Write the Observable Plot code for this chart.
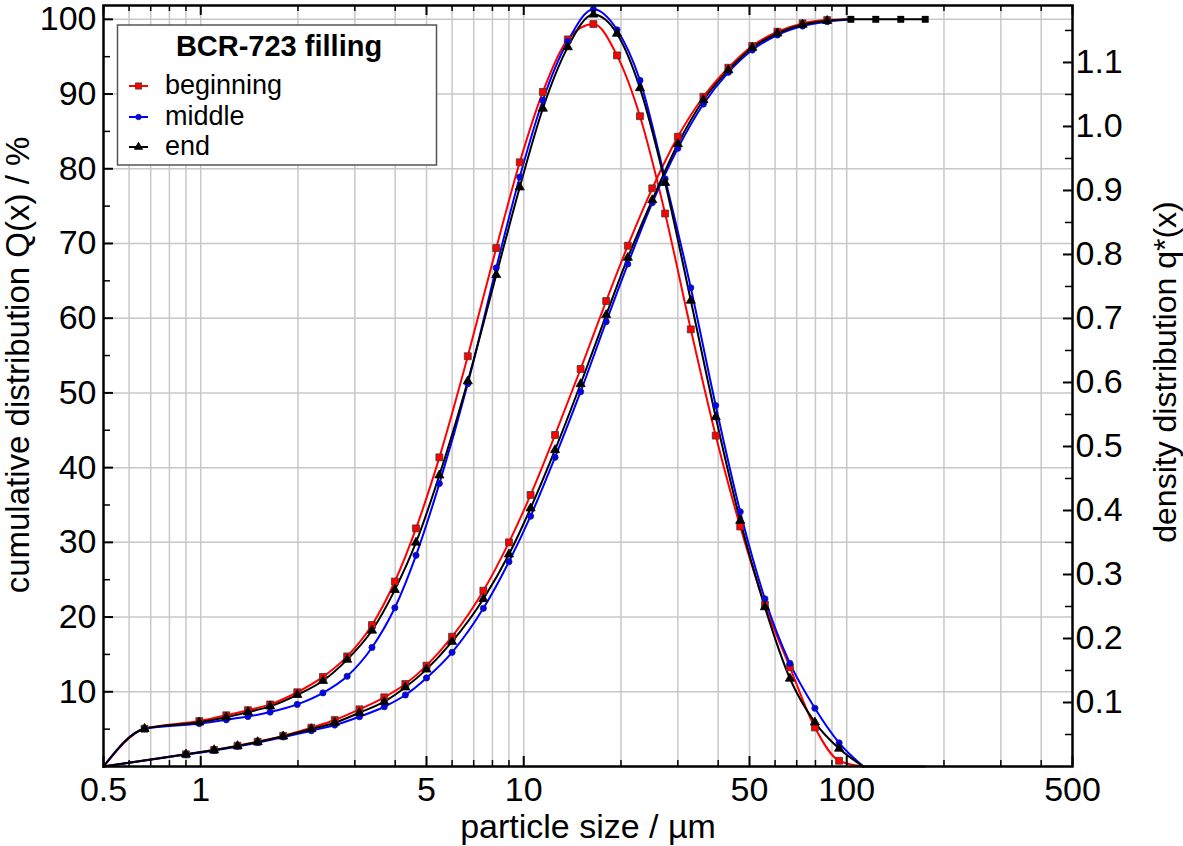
<!DOCTYPE html>
<html><head><meta charset="utf-8">
<script src="https://cdn.jsdelivr.net/npm/d3@7"></script>
<script src="https://cdn.jsdelivr.net/npm/@observablehq/plot@0.6"></script>
<style>
html,body{margin:0;padding:0;background:#fff;}
#chart{width:1183px;height:846px;position:relative;}
</style></head><body><div id="chart"></div>
<script>
// ---- data ----
const densSizes = [0.67, 0.99, 1.2, 1.4, 1.64, 1.99, 2.39, 2.84, 3.39, 3.99, 4.64, 5.48, 6.71, 8.22, 9.72, 11.46, 13.69, 16.43, 19.44, 22.9, 27.4, 32.9, 39.3, 46.8, 55.8, 66.7, 79.7, 94.7];
const densBeginning = [0.059, 0.071, 0.080, 0.088, 0.097, 0.116, 0.140, 0.172, 0.221, 0.289, 0.372, 0.483, 0.641, 0.810, 0.944, 1.054, 1.136, 1.160, 1.111, 1.016, 0.864, 0.683, 0.517, 0.375, 0.253, 0.155, 0.061, 0.009];
const densMiddle    = [0.059, 0.067, 0.073, 0.078, 0.085, 0.097, 0.115, 0.141, 0.186, 0.248, 0.330, 0.442, 0.598, 0.779, 0.921, 1.041, 1.133, 1.183, 1.151, 1.072, 0.918, 0.748, 0.564, 0.398, 0.262, 0.161, 0.091, 0.037];
const densEnd       = [0.059, 0.069, 0.077, 0.085, 0.094, 0.112, 0.134, 0.167, 0.2125, 0.276, 0.350, 0.455, 0.602, 0.768, 0.905, 1.028, 1.124, 1.175, 1.145, 1.060, 0.912, 0.728, 0.546, 0.384, 0.249, 0.1375, 0.069, 0.028];
const densTailSizes = [112.6, 175];
const densTail      = [0, 0];

const cumSizes = [0.9, 1.1, 1.3, 1.5, 1.8, 2.2, 2.6, 3.1, 3.7, 4.3, 5.0, 6.0, 7.5, 9.0, 10.5, 12.5, 15, 18, 21, 25, 30, 36, 43, 51, 61, 73, 87];
const cumBeginning = [1.63, 2.21, 2.78, 3.32, 4.1, 5.19, 6.22, 7.65, 9.26, 11.04, 13.5, 17.37, 23.53, 30.0, 36.34, 44.37, 53.2, 62.3, 69.7, 77.38, 84.29, 89.64, 93.52, 96.43, 98.34, 99.46, 99.9];
const cumMiddle    = [1.6, 2.15, 2.7, 3.2, 3.95, 4.79, 5.55, 6.66, 8.0, 9.57, 11.85, 15.28, 21.17, 27.41, 33.5, 41.38, 50.16, 59.53, 67.25, 75.45, 82.74, 88.66, 92.9, 95.89, 97.9, 99.1, 99.68];
const cumEnd       = [1.63, 2.2, 2.75, 3.28, 4.05, 5.02, 5.86, 7.2, 8.67, 10.6, 13.0, 16.7, 22.42, 28.4, 34.56, 42.36, 51.19, 60.43, 68.1, 75.82, 83.31, 89.2, 93.2, 96.2, 98.13, 99.3, 99.8];
const cumTailSizes = [103, 123, 147, 175];
const cumTail      = [100, 100, 100, 100];

const startSize = 0.5;
const seriesNames = ["beginning", "middle", "end"];
const legendTitle = "BCR-723 filling";

// axes
const xDomain = [0.5, 500];
const yLeftMax = 101.85;     // cumulative axis top (%)
const yRightMax = 1.189;     // density axis top
const xTickLabels = [0.5, 1, 5, 10, 50, 100, 500];
const xGrid = [0.6, 0.7, 0.8, 0.9, 1, 2, 3, 4, 5, 6, 7, 8, 9, 10, 20, 30, 40, 50, 60, 70, 80, 90, 100, 200, 300, 400];
const xMinorTicks = [0.6, 0.7, 0.8, 0.9, 2, 3, 4, 6, 7, 8, 9, 20, 30, 40, 60, 70, 80, 90, 200, 300, 400];
const yLeftLabels = [10, 20, 30, 40, 50, 60, 70, 80, 90, 100];
const yLeftMinor = [5, 15, 25, 35, 45, 55, 65, 75, 85, 95];
const yRightLabels = [0.1, 0.2, 0.3, 0.4, 0.5, 0.6, 0.7, 0.8, 0.9, 1.0, 1.1];
const yRightMinor = [0.05, 0.15, 0.25, 0.35, 0.45, 0.55, 0.65, 0.75, 0.85, 0.95, 1.05, 1.15];

const xTitle = "particle size / µm";
const yLeftTitle = "cumulative distribution Q(x) / %";
const yRightTitle = "density distribution q*(x)";

// ---- layout ----
const W = 1183, H = 846, mL = 103, mR = 111, mT = 5, mB = 80;
const fw = W - mL - mR, fh = H - mT - mB;
const K = yLeftMax / yRightMax; // density -> shared y units
const FONT = "'Liberation Sans', Arial, Helvetica, sans-serif";
const FS = 34;

const styles = [
  {color: "#ff0000", symbol: "square", r: 3.9, stroke: "#3a3a3a"},
  {color: "#0000ff", symbol: "circle", r: 3.1, stroke: "#202060"},
  {color: "#000000", symbol: "triangle", r: 3.4, stroke: "#000000"}
];
const densSeries = [densBeginning, densMiddle, densEnd];
const cumSeries = [cumBeginning, cumMiddle, cumEnd];

const pts = (sizes, vals, f = 1) => sizes.map((s, i) => ({x: s, y: vals[i] * f}));

const lineMarks = [], dotMarks = [];
const order = [0, 1, 2];
for (const i of order) {
  const st = styles[i];
  const dLine = [{x: startSize, y: 0}, ...pts(densSizes, densSeries[i], K), {x: densTailSizes[0], y: densTail[0] * K}];
  const cLine = [{x: startSize, y: 0}, ...pts(cumSizes, cumSeries[i]), {x: cumTailSizes[0], y: cumTail[0]}];
  for (const L of [dLine, cLine]) {
    lineMarks.push(Plot.line(L, {x: "x", y: "y", stroke: st.color, strokeWidth: 2, curve: "monotone-x"}));
  }
}
for (const i of order) {
  const st = styles[i];
  for (const D of [pts(densSizes, densSeries[i], K), pts(cumSizes, cumSeries[i])]) {
    dotMarks.push(Plot.dot(D, {x: "x", y: "y", symbol: st.symbol, r: st.r, fill: st.color, stroke: st.stroke, strokeWidth: 0.8}));
  }
}
// common tails (drawn black)
const tailMarks = [
  Plot.line(pts(cumTailSizes, cumTail), {x: "x", y: "y", stroke: "black", strokeWidth: 2}),
  Plot.line(pts(densTailSizes, densTail, K), {x: "x", y: "y", stroke: "black", strokeWidth: 2}),
  Plot.dot(pts(cumTailSizes, cumTail), {x: "x", y: "y", symbol: "square", r: 3.9, fill: "black"})
];

const chart = Plot.plot({
  width: W, height: H,
  marginLeft: mL, marginRight: mR, marginTop: mT, marginBottom: mB,
  style: {fontFamily: FONT, fontSize: FS + "px", color: "black", background: "white"},
  x: {type: "log", domain: xDomain, axis: null},
  y: {domain: [0, yLeftMax], axis: null},
  marks: [
    Plot.ruleX(xGrid, {x: d => d, stroke: "#c8c8c8", strokeWidth: 1.5}),
    Plot.ruleY(yLeftLabels, {y: d => d, stroke: "#c8c8c8", strokeWidth: 1.5}),
    ...lineMarks,
    ...tailMarks.slice(0, 2),
    ...dotMarks,
    tailMarks[2],
    // ticks (inward)
    Plot.tickX(xTickLabels, {x: d => d, insetTop: fh - 10, stroke: "black", strokeWidth: 2}),
    Plot.tickX(xMinorTicks, {x: d => d, insetTop: fh - 6, stroke: "black", strokeWidth: 1.5}),
    Plot.tickX(xTickLabels, {x: d => d, insetBottom: fh - 10, stroke: "black", strokeWidth: 2}),
    Plot.tickX(xMinorTicks, {x: d => d, insetBottom: fh - 6, stroke: "black", strokeWidth: 1.5}),
    Plot.tickY(yLeftLabels, {y: d => d, insetRight: fw - 10, stroke: "black", strokeWidth: 2}),
    Plot.tickY(yLeftMinor, {y: d => d, insetRight: fw - 7, stroke: "black", strokeWidth: 1.5}),
    Plot.tickY(yRightLabels.map(v => v * K), {y: d => d, insetLeft: fw - 9, stroke: "black", strokeWidth: 2}),
    Plot.tickY(yRightMinor.map(v => v * K), {y: d => d, insetLeft: fw - 7, stroke: "black", strokeWidth: 1.5}),
    Plot.frame({stroke: "black", strokeWidth: 2.5}),
    // tick labels
    Plot.text(xTickLabels, {x: d => d, text: d => String(d), frameAnchor: "bottom", textAnchor: "middle", lineAnchor: "top", dy: 10, fontSize: FS}),
    Plot.text(yLeftLabels, {y: d => d, text: d => String(d), frameAnchor: "left", textAnchor: "end", lineAnchor: "middle", dx: -7, fontSize: FS}),
    Plot.text(yRightLabels, {y: d => d * K, text: d => d.toFixed(1), frameAnchor: "right", textAnchor: "start", lineAnchor: "middle", dx: 3, fontSize: FS}),
    // axis titles
    Plot.text([xTitle], {text: d => d, frameAnchor: "bottom", textAnchor: "middle", lineAnchor: "middle", dy: 61, fontSize: FS}),
    Plot.text([yLeftTitle], {text: d => d, frameAnchor: "left", textAnchor: "middle", lineAnchor: "middle", rotate: -90, dx: -85, dy: -21, fontSize: 33}),
    Plot.text([yRightTitle], {text: d => d, frameAnchor: "right", textAnchor: "middle", lineAnchor: "middle", rotate: -90, dx: 93, dy: -14, fontSize: 32})
  ]
});
document.getElementById("chart").appendChild(chart);

// ---- legend (inside plot, top-left) ----
const svg = d3.select(chart);
const lg = svg.append("g").attr("font-family", FONT).attr("text-anchor", "start");
lg.append("rect").attr("x", 117.5).attr("y", 25).attr("width", 319).attr("height", 140)
  .attr("fill", "white").attr("stroke", "#555").attr("stroke-width", 1.5);
lg.append("text").attr("x", 279).attr("y", 56).attr("text-anchor", "middle")
  .attr("font-size", 29).attr("font-weight", "bold").text(legendTitle);
const rowY = [86, 117, 147];
seriesNames.forEach((name, i) => {
  const st = styles[i], y = rowY[i];
  lg.append("line").attr("x1", 129).attr("x2", 148).attr("y1", y).attr("y2", y)
    .attr("stroke", st.color).attr("stroke-width", 2);
  const sym = {square: d3.symbolSquare, circle: d3.symbolCircle, triangle: d3.symbolTriangle}[st.symbol];
  lg.append("path").attr("transform", `translate(138.5,${y})`)
    .attr("d", d3.symbol(sym, Math.PI * st.r * st.r * 0.8)())
    .attr("fill", st.color).attr("stroke", st.stroke).attr("stroke-width", 0.8);
  lg.append("text").attr("x", 165).attr("y", y + 8).attr("text-anchor", "start").attr("font-size", 27).text(name);
});
</script>
</body></html>
